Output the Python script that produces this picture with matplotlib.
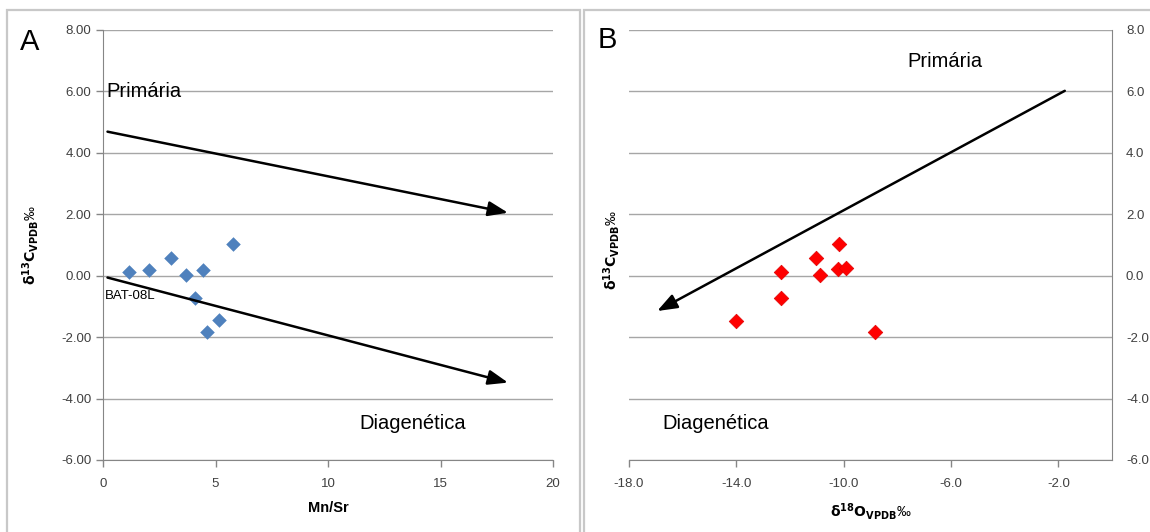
import numpy as np
import matplotlib
matplotlib.use('Agg')
import matplotlib.pyplot as plt
from matplotlib.patches import Rectangle

plt.rcParams['font.family'] = ['Liberation Sans', 'DejaVu Sans']
plt.rcParams['mathtext.fontset'] = 'dejavusans'

# data
mn_sr = [1.17, 2.03, 3.04, 3.70, 4.43, 5.79, 4.09, 5.17, 4.61]
d13c = [0.12, 0.20, 0.58, 0.01, 0.20, 1.02, -0.74, -1.45, -1.82]
d18o = [-12.34, -10.20, -11.04, -10.88, -9.92, -10.16, -12.34, -14.01, -8.83]
d13c_b = [0.13, 0.21, 0.59, 0.02, 0.24, 1.02, -0.74, -1.47, -1.82]

a_xticks = [0, 5, 10, 15, 20]
a_yticks = [-6, -4, -2, 0, 2, 4, 6, 8]
b_xticks = [-18.0, -14.0, -10.0, -6.0, -2.0]

arrows_a = [((0.2, 4.69), (18.0, 2.05)), ((0.2, -0.06), (18.0, -3.48))]
arrows_b = [((-1.76, 6.02), (-16.95, -1.15))]

GRID = '#a6a6a6'
AXC = '#868686'
ylab = r'$\mathbf{\delta^{13}C_{VPDB}}$‰'
xlab_b = r'$\mathbf{\delta^{18}O_{VPDB}}$‰'

fig = plt.figure(figsize=(11.5, 5.32), dpi=100)

# panel frames
for x0, x1 in ((7, 580), (584, 1160)):
    fig.patches.append(Rectangle((x0 / 1150, -0.1), (x1 - x0) / 1150, 1.1 - 10.5 / 532,
                                 transform=fig.transFigure, fill=False,
                                 edgecolor='#c8c8c8', lw=1.6))

def style(ax):
    ax.set_facecolor('none')
    ax.grid(axis='y', color=GRID, lw=1.0)
    ax.set_axisbelow(True)
    for s in ax.spines.values():
        s.set_visible(False)
    ax.tick_params(colors=AXC, labelcolor='#404040', labelsize=9.5, width=1.0)

def draw_arrows(ax, arrows):
    for (x0, y0), (x1, y1) in arrows:
        ax.annotate('', xy=(x1, y1), xytext=(x0, y0),
                    arrowprops=dict(arrowstyle='-|>,head_length=1.2,head_width=0.45',
                                    color='black', lw=1.8, shrinkA=0, shrinkB=0))

# ---- panel A
axa = fig.add_axes([103 / 1150, 1 - 460 / 532, 450 / 1150, 430 / 532])
style(axa)
axa.spines['left'].set_visible(True)
axa.spines['bottom'].set_visible(True)
axa.spines['left'].set_color(AXC)
axa.spines['bottom'].set_color(AXC)
axa.set_xlim(0, 20)
axa.set_ylim(-6, 8)
axa.set_xticks(a_xticks)
axa.set_yticks(a_yticks)
axa.set_yticklabels([f'{v:.2f}' for v in a_yticks])
axa.tick_params(axis='both', length=5, direction='out')
axa.tick_params(axis='x', pad=8)
axa.scatter(mn_sr, d13c, marker='D', s=55, color='#4f81bd', zorder=3, linewidths=0)
draw_arrows(axa, arrows_a)
axa.text(0.15, 6.0, 'Primária', fontsize=14.5, va='center', ha='left')
axa.text(11.4, -4.8, 'Diagenética', fontsize=14.5, va='center', ha='left')
axa.text(0.1, -0.67, 'BAT-08L', fontsize=9.5, va='center', ha='left')
axa.set_xlabel('Mn/Sr', fontsize=10.5, fontweight='bold', labelpad=8)
axa.set_ylabel(ylab, fontsize=10, labelpad=14)
fig.text(20 / 1150, 1 - 42 / 532, 'A', fontsize=21, va='center', ha='left')

# ---- panel B
axb = fig.add_axes([629 / 1150, 1 - 460 / 532, 483 / 1150, 430 / 532])
style(axb)
axb.spines['right'].set_visible(True)
axb.spines['bottom'].set_visible(True)
axb.spines['right'].set_color(AXC)
axb.spines['bottom'].set_color(AXC)
axb.set_xlim(-18, 0)
axb.set_ylim(-6, 8)
axb.set_xticks(b_xticks)
axb.set_xticklabels([f'{v:.1f}' for v in b_xticks])
axb.set_yticks(a_yticks)
axb.set_yticklabels([f'{v:.1f}' for v in a_yticks])
axb.yaxis.tick_right()
axb.tick_params(axis='y', length=0, pad=10)
axb.tick_params(axis='x', length=5, direction='out', pad=8)
axb.scatter(d18o, d13c_b, marker='D', s=55, color='#ff0000', edgecolors='#e00000',
            linewidths=0.5, zorder=3)
draw_arrows(axb, arrows_b)
axb.text(-7.63, 6.97, 'Primária', fontsize=14.5, va='center', ha='left')
axb.text(-16.75, -4.8, 'Diagenética', fontsize=14.5, va='center', ha='left')
axb.set_xlabel(xlab_b, fontsize=10, labelpad=8)
fig.text(612 / 1150, 1 - 250 / 532, ylab, fontsize=10, rotation=90,
         va='center', ha='center')
fig.text(598 / 1150, 1 - 40 / 532, 'B', fontsize=21, va='center', ha='left')

fig.savefig('out.png', dpi=100)
